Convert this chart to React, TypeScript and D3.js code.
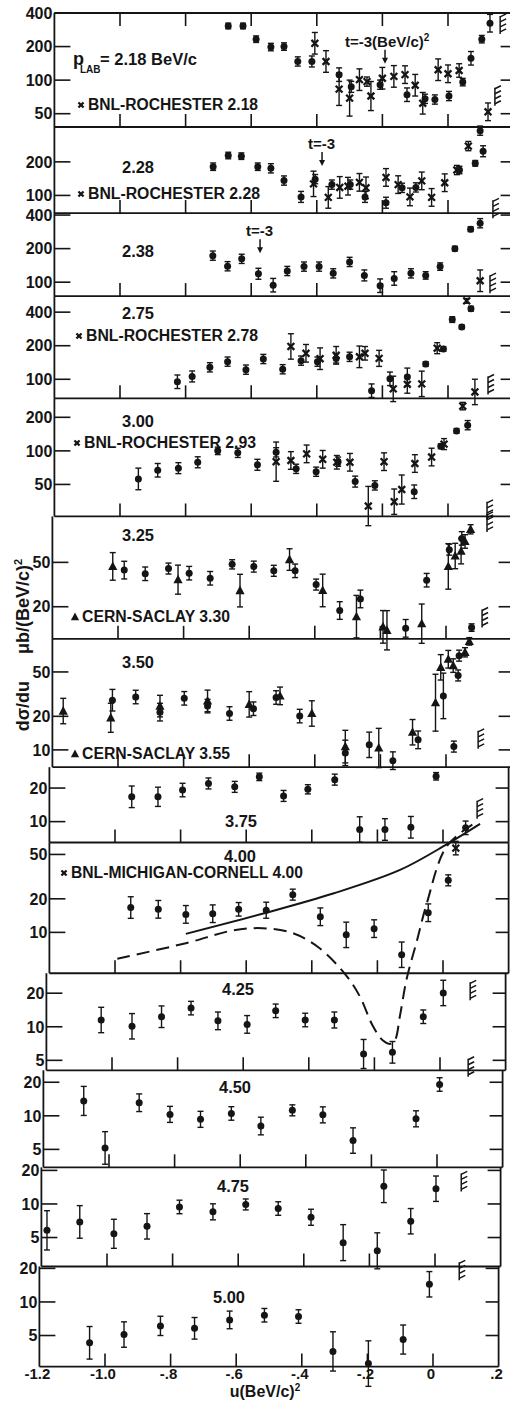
import * as d3 from "d3";

// [u, dσ/du, relative error, marker]  o = this experiment, x = BNL, t = CERN-Saclay
type Pt = [number, number, number, string];

const p218: Pt[] = [
  [-0.67, 306, 0.06, "o"], [-0.625, 306, 0.06, "o"], [-0.585, 233, 0.07, "o"], [-0.54, 198, 0.08, "o"],
  [-0.5, 200, 0.08, "o"], [-0.458, 147, 0.1, "o"], [-0.415, 147, 0.12, "o"], [-0.406, 214, 0.25, "x"],
  [-0.372, 147, 0.25, "x"], [-0.332, 112, 0.15, "o"], [-0.332, 83, 0.4, "x"], [-0.3, 69, 0.45, "x"],
  [-0.295, 87, 0.12, "o"], [-0.27, 101, 0.25, "x"], [-0.247, 97, 0.1, "x"], [-0.235, 72, 0.35, "x"],
  [-0.207, 91, 0.1, "o"], [-0.2, 104, 0.25, "x"], [-0.165, 108, 0.25, "x"], [-0.131, 112, 0.2, "x"],
  [-0.125, 74, 0.15, "o"], [-0.1, 90, 0.25, "x"], [-0.077, 62, 0.25, "x"], [-0.07, 68, 0.1, "o"],
  [-0.04, 67, 0.1, "o"], [-0.03, 124, 0.25, "x"], [0.0, 114, 0.2, "x"], [0.003, 72, 0.1, "o"],
  [0.034, 122, 0.15, "x"], [0.045, 96, 0.08, "o"], [0.07, 157, 0.15, "o"], [0.103, 233, 0.08, "o"],
  [0.128, 324, 0.2, "o"], [0.122, 52, 0.2, "x"],
];
const p228: Pt[] = [
  [-0.716, 181, 0.08, "o"], [-0.67, 228, 0.07, "o"], [-0.63, 225, 0.07, "o"], [-0.58, 181, 0.08, "o"],
  [-0.54, 175, 0.1, "o"], [-0.5, 136, 0.1, "o"], [-0.448, 97, 0.12, "o"], [-0.41, 127, 0.3, "x"],
  [-0.405, 140, 0.1, "o"], [-0.365, 96, 0.25, "x"], [-0.354, 125, 0.1, "o"], [-0.33, 118, 0.25, "x"],
  [-0.305, 121, 0.2, "x"], [-0.298, 125, 0.1, "o"], [-0.27, 131, 0.2, "x"], [-0.253, 97, 0.12, "o"],
  [-0.25, 117, 0.25, "x"], [-0.189, 145, 0.2, "x"], [-0.189, 86, 0.12, "o"], [-0.152, 125, 0.2, "x"],
  [-0.14, 117, 0.1, "o"], [-0.116, 97, 0.2, "x"], [-0.098, 118, 0.1, "o"], [-0.08, 135, 0.2, "x"],
  [-0.05, 96, 0.2, "x"], [-0.01, 130, 0.2, "x"], [0.027, 169, 0.1, "x"], [0.035, 169, 0.08, "o"],
  [0.062, 277, 0.1, "x"], [0.083, 194, 0.06, "o"], [0.098, 381, 0.1, "o"], [0.107, 249, 0.12, "o"],
];
const p238: Pt[] = [
  [-0.717, 173, 0.1, "o"], [-0.672, 139, 0.1, "o"], [-0.629, 162, 0.1, "o"], [-0.578, 119, 0.12, "o"],
  [-0.533, 94, 0.15, "o"], [-0.49, 126, 0.1, "o"], [-0.439, 138, 0.1, "o"], [-0.393, 138, 0.1, "o"],
  [-0.35, 120, 0.1, "o"], [-0.3, 152, 0.1, "o"], [-0.255, 115, 0.12, "o"], [-0.207, 93, 0.15, "o"],
  [-0.164, 108, 0.15, "o"], [-0.113, 120, 0.1, "o"], [-0.068, 115, 0.08, "o"], [-0.024, 138, 0.08, "o"],
  [0.021, 200, 0.05, "o"], [0.069, 299, 0.05, "o"], [0.098, 338, 0.1, "o"], [0.098, 103, 0.25, "x"],
];
const p275: Pt[] = [
  [-0.825, 95, 0.15, "o"], [-0.78, 106, 0.12, "o"], [-0.726, 128, 0.1, "o"], [-0.672, 144, 0.1, "o"],
  [-0.616, 122, 0.1, "o"], [-0.563, 152, 0.1, "o"], [-0.504, 123, 0.1, "o"], [-0.479, 197, 0.3, "x"],
  [-0.448, 147, 0.1, "o"], [-0.433, 171, 0.2, "x"], [-0.398, 144, 0.1, "o"], [-0.39, 153, 0.25, "x"],
  [-0.341, 154, 0.1, "o"], [-0.341, 164, 0.2, "x"], [-0.3, 159, 0.1, "o"], [-0.27, 159, 0.25, "x"],
  [-0.253, 171, 0.15, "x"], [-0.233, 79, 0.15, "o"], [-0.21, 154, 0.18, "x"], [-0.177, 101, 0.15, "o"],
  [-0.167, 82, 0.3, "x"], [-0.124, 105, 0.2, "o"], [-0.124, 90, 0.2, "x"], [-0.08, 91, 0.3, "x"],
  [-0.068, 137, 0.05, "o"], [-0.033, 190, 0.12, "x"], [-0.014, 187, 0.05, "o"], [0.013, 343, 0.06, "o"],
  [0.042, 295, 0.04, "o"], [0.057, 505, 0.05, "x"], [0.07, 430, 0.05, "o"], [0.082, 77, 0.3, "x"],
];
const p300: Pt[] = [
  [-0.944, 56, 0.25, "o"], [-0.885, 67, 0.15, "o"], [-0.822, 70, 0.12, "o"], [-0.763, 79, 0.12, "o"],
  [-0.702, 100, 0.08, "o"], [-0.641, 96, 0.1, "o"], [-0.581, 75, 0.12, "o"], [-0.524, 97, 0.1, "o"],
  [-0.524, 80, 0.5, "x"], [-0.479, 82, 0.2, "x"], [-0.463, 69, 0.1, "o"], [-0.431, 94, 0.2, "x"],
  [-0.402, 65, 0.1, "o"], [-0.382, 84, 0.2, "x"], [-0.339, 79, 0.15, "x"], [-0.335, 80, 0.1, "o"],
  [-0.299, 79, 0.2, "x"], [-0.283, 53, 0.12, "o"], [-0.243, 32, 0.5, "x"], [-0.223, 49, 0.1, "o"],
  [-0.195, 80, 0.2, "x"], [-0.164, 35, 0.3, "x"], [-0.141, 45, 0.35, "x"], [-0.103, 43, 0.15, "o"],
  [-0.101, 77, 0.2, "x"], [-0.05, 88, 0.2, "x"], [-0.022, 110, 0.05, "o"], [-0.012, 115, 0.12, "x"],
  [0.026, 151, 0.05, "o"], [0.045, 252, 0.08, "x"], [0.06, 170, 0.1, "o"],
];
const p325: Pt[] = [
  [-1.016, 46, 0.33, "t"], [-0.981, 42.6, 0.2, "o"], [-0.917, 39.5, 0.15, "o"], [-0.846, 44, 0.12, "o"],
  [-0.817, 35, 0.35, "t"], [-0.783, 40, 0.15, "o"], [-0.719, 36, 0.15, "o"], [-0.652, 48, 0.1, "o"],
  [-0.628, 27.9, 0.4, "t"], [-0.586, 45.8, 0.12, "o"], [-0.525, 42, 0.12, "o"], [-0.477, 53, 0.25, "t"],
  [-0.46, 42, 0.15, "o"], [-0.396, 31.6, 0.12, "o"], [-0.376, 28, 0.4, "t"], [-0.324, 18.5, 0.2, "o"],
  [-0.273, 16.3, 0.55, "t"], [-0.261, 23.5, 0.2, "o"], [-0.192, 13.2, 0.4, "t"], [-0.18, 12.3, 0.5, "t"],
  [-0.123, 12.8, 0.2, "o"], [-0.074, 14.1, 0.5, "t"], [-0.059, 34.6, 0.15, "o"], [0.007, 46, 0.6, "t"],
  [0.01, 65, 0.12, "o"], [0.028, 57, 0.3, "t"], [0.046, 63, 0.3, "t"], [0.048, 82, 0.15, "o"],
  [0.058, 77, 0.15, "t"], [0.075, 99, 0.1, "t"],
];
const p350: Pt[] = [
  [-1.167, 22.3, 0.3, "t"], [-1.022, 19.4, 0.35, "t"], [-1.017, 27.9, 0.25, "o"], [-0.946, 29.8, 0.15, "o"],
  [-0.872, 24.7, 0.25, "t"], [-0.872, 21.8, 0.2, "o"], [-0.798, 29, 0.15, "o"], [-0.727, 27.5, 0.25, "t"],
  [-0.727, 24.7, 0.15, "o"], [-0.66, 21.2, 0.15, "o"], [-0.6, 25.6, 0.3, "t"], [-0.587, 23.4, 0.15, "o"],
  [-0.518, 29.5, 0.15, "o"], [-0.506, 30.5, 0.2, "t"], [-0.446, 20.1, 0.15, "o"], [-0.409, 21.2, 0.3, "t"],
  [-0.307, 10.7, 0.4, "t"], [-0.307, 9.4, 0.3, "o"], [-0.234, 11.1, 0.3, "o"], [-0.205, 10.4, 0.5, "t"],
  [-0.162, 8.0, 0.2, "o"], [-0.102, 14.4, 0.3, "t"], [-0.085, 12.3, 0.2, "o"], [-0.032, 26.5, 0.8, "t"],
  [-0.016, 55, 0.3, "t"], [-0.008, 30.5, 0.6, "o"], [0.007, 65, 0.2, "t"], [0.022, 57, 0.15, "t"],
  [0.024, 10.7, 0.12, "o"], [0.037, 46.5, 0.12, "o"], [0.04, 70, 0.12, "o"], [0.058, 75, 0.1, "t"],
  [0.071, 94, 0.08, "t"], [0.078, 125, 0.08, "o"],
];
const p375: Pt[] = [
  [-0.949, 16.7, 0.25, "o"], [-0.869, 16.7, 0.22, "o"], [-0.794, 19.2, 0.15, "o"], [-0.715, 22, 0.12, "o"],
  [-0.635, 20.5, 0.12, "o"], [-0.56, 25.2, 0.08, "o"], [-0.486, 17, 0.12, "o"], [-0.412, 19.5, 0.1, "o"],
  [-0.33, 23.8, 0.12, "o"], [-0.254, 8.5, 0.3, "o"], [-0.177, 8.5, 0.25, "o"], [-0.098, 8.9, 0.25, "o"],
  [-0.021, 25.5, 0.08, "o"], [0.069, 8.8, 0.15, "o"],
];
const p400: Pt[] = [
  [-0.952, 16.7, 0.25, "o"], [-0.868, 16.1, 0.2, "o"], [-0.784, 14.5, 0.2, "o"], [-0.702, 14.7, 0.2, "o"],
  [-0.623, 16.1, 0.15, "o"], [-0.539, 15.8, 0.18, "o"], [-0.458, 21.8, 0.12, "o"], [-0.374, 13.8, 0.2, "o"],
  [-0.295, 9.5, 0.3, "o"], [-0.21, 10.8, 0.2, "o"], [-0.126, 6.3, 0.3, "o"], [-0.045, 15.0, 0.2, "o"],
  [0.016, 29.3, 0.12, "o"], [0.039, 57, 0.15, "x"],
];
const p425: Pt[] = [
  [-1.033, 11.5, 0.3, "o"], [-0.939, 10.1, 0.3, "o"], [-0.849, 12.3, 0.25, "o"], [-0.759, 14.7, 0.15, "o"],
  [-0.677, 11.3, 0.2, "o"], [-0.588, 10.5, 0.2, "o"], [-0.501, 13.9, 0.15, "o"], [-0.411, 11.5, 0.15, "o"],
  [-0.322, 11.5, 0.18, "o"], [-0.233, 5.7, 0.35, "o"], [-0.145, 5.9, 0.25, "o"], [-0.051, 12.3, 0.15, "o"],
  [0.01, 20.1, 0.3, "o"],
];
const p450: Pt[] = [
  [-1.077, 13.6, 0.35, "o"], [-1.012, 5.15, 0.4, "o"], [-0.908, 13.1, 0.2, "o"], [-0.814, 10.3, 0.18, "o"],
  [-0.721, 9.3, 0.18, "o"], [-0.627, 10.5, 0.15, "o"], [-0.537, 8.1, 0.2, "o"], [-0.441, 11.2, 0.12, "o"],
  [-0.348, 10.2, 0.18, "o"], [-0.256, 6.0, 0.3, "o"], [-0.064, 9.4, 0.18, "o"], [0.008, 19.1, 0.15, "o"],
];
const p475: Pt[] = [
  [-1.183, 5.8, 0.5, "o"], [-1.083, 6.9, 0.4, "o"], [-0.979, 5.4, 0.35, "o"], [-0.878, 6.3, 0.3, "o"],
  [-0.779, 9.4, 0.15, "o"], [-0.677, 8.5, 0.18, "o"], [-0.577, 9.9, 0.12, "o"], [-0.478, 9.1, 0.15, "o"],
  [-0.378, 7.6, 0.18, "o"], [-0.28, 4.5, 0.45, "o"], [-0.176, 3.8, 0.45, "o"], [-0.156, 14.4, 0.4, "o"],
  [-0.074, 7.0, 0.3, "o"], [0.003, 13.7, 0.3, "o"],
];
const p500: Pt[] = [
  [-1.047, 4.3, 0.4, "o"], [-0.942, 5.1, 0.3, "o"], [-0.831, 6.1, 0.22, "o"], [-0.727, 5.8, 0.25, "o"],
  [-0.62, 6.9, 0.2, "o"], [-0.514, 7.6, 0.15, "o"], [-0.41, 7.4, 0.15, "o"], [-0.305, 3.6, 0.5, "o"],
  [-0.197, 2.8, 0.6, "o"], [-0.091, 4.6, 0.35, "o"], [-0.011, 14.4, 0.3, "o"],
];

const series = [p218, p228, p238, p275, p300, p325, p350, p375, p400, p425, p450, p475, p500];
const momenta = ["2.18", "2.28", "2.38", "2.75", "3.00", "3.25", "3.50", "3.75", "4.00", "4.25", "4.50", "4.75", "5.00"];
const yDomains: [number, number][] = [
  [38, 400], [69.5, 411], [75, 417], [67.5, 557], [25.8, 296], [10.3, 129], [7, 99],
  [6.5, 30.8], [4.3, 64], [4.07, 30.2], [3.45, 25.6], [2.75, 21.3], [2.63, 20.8],
];
const yTickVals: number[][] = [
  [400, 200, 100, 50], [200, 100], [400, 200, 100], [400, 200, 100], [200, 100, 50], [50, 20], [50, 20, 10],
  [20, 10], [50, 20, 10], [20, 10, 5], [20, 10, 5], [20, 10, 5], [20, 10, 5],
];
// 180° (u max) hatch marks, [u, value]
const hatches: [number, number][][] = [
  [[0.159, 313], [0.143, 71]], [[0.137, 75]], [[0.128, 96]], [[0.122, 88]], [[0.119, 29]],
  [[0.125, 113], [0.11, 15.7]], [[0.098, 12.3]], [[0.104, 12.8]], [], [[0.092, 20.8]], [[0.095, 27]],
  [[0.08, 15.6]], [[0.08, 18.8]],
];
// t = -3 arrows: panel, u, value at arrow tip
const tArrows: [number, number, number, string][] = [
  [0, -0.192, 140, "t=-3(BeV/c)"],
  [1, -0.384, 184, "t=-3"],
  [2, -0.573, 182, "t=-3"],
];
// model curves drawn in the 4.00 panel
const curveSolid: [number, number][] = [
  [-0.784, 9.7], [-0.539, 15.0], [-0.335, 22.3], [-0.131, 36.3], [0.011, 61.5], [0.113, 94],
];
const curveDashed: [number, number][] = [
  [-0.993, 5.8], [-0.784, 8.0], [-0.641, 10.4], [-0.55, 10.9], [-0.458, 9.85], [-0.376, 7.2],
  [-0.295, 4.1], [-0.254, 2.68], [-0.213, 1.43], [-0.183, 1.07], [-0.162, 1.0], [-0.147, 1.07],
  [-0.131, 1.8], [-0.111, 3.8], [-0.08, 8.3], [-0.05, 17.95], [0.011, 59], [0.093, 94],
];
const xTicks = [-1.2, -1.0, -0.8, -0.6, -0.4, -0.2, 0, 0.2];
const xTickLabels = ["-1.2", "-1.0", "-.8", "-.6", "-.4", "-.2", "0", ".2"];

const PX_PER_DECADE = 111.5;
const TOP = 13;
const shifts = [0, 0, 0, 0, 0, -2, -2, -5, -5, -8, -11, -13, -15];
const labelPos: [number, number][] = [
  [0, 0], [122, 173], [122, 257], [122, 319], [122, 427], [122, 541], [122, 668],
  [225, 827], [224, 862], [222, 995], [219, 1093], [217, 1192], [213, 1303],
];
const legends: { x: number; y: number; m: string; text: string; w: number }[] = [
  { x: 78, y: 110, m: "x", text: "BNL-ROCHESTER 2.18", w: 170 },
  { x: 78, y: 199, m: "x", text: "BNL-ROCHESTER 2.28", w: 172 },
  { x: 76, y: 341, m: "x", text: "BNL-ROCHESTER 2.78", w: 172 },
  { x: 74, y: 448, m: "x", text: "BNL-ROCHESTER 2.93", w: 172 },
  { x: 72, y: 622, m: "t", text: "CERN-SACLAY 3.30", w: 148 },
  { x: 72, y: 759, m: "t", text: "CERN-SACLAY 3.55", w: 148 },
  { x: 61, y: 878, m: "x", text: "BNL-MICHIGAN-CORNELL 4.00", w: 232 },
];

const INK = "#151515";
const FONT = "'Liberation Sans', Arial, sans-serif";

function Marker({ x, y, m, s = 1 }: { x: number; y: number; m: string; s?: number }) {
  if (m === "x") {
    const r = 3.4 * s;
    return (
      <path d={`M${x - r},${y - r}L${x + r},${y + r}M${x + r},${y - r}L${x - r},${y + r}`} stroke={INK} strokeWidth={2.3} />
    );
  }
  if (m === "t") {
    return <path d={`M${x},${y - 5 * s}L${x + 4.6 * s},${y + 3.6 * s}L${x - 4.6 * s},${y + 3.6 * s}Z`} fill={INK} />;
  }
  return <circle cx={x} cy={y} r={3.5 * s} fill={INK} />;
}

export default function App() {
  const layout: { yTop: number; yBot: number }[] = [];
  let yCur = TOP;
  yDomains.forEach(([lo, hi]) => {
    const h = Math.log10(hi / lo) * PX_PER_DECADE;
    layout.push({ yTop: yCur, yBot: yCur + h });
    yCur += h;
  });

  const scales = yDomains.map((dom, i) => ({
    x: d3.scaleLinear().domain([-1.2, 0.2]).range([54.4 + shifts[i], 513.6 + shifts[i]]),
    y: d3.scaleLog().domain(dom).range([layout[i].yBot, layout[i].yTop]),
  }));

  const s9 = scales[8];
  const line9 = d3
    .line<[number, number]>()
    .x((d) => s9.x(d[0]))
    .y((d) => s9.y(d[1]))
    .curve(d3.curveCatmullRom.alpha(0.5));

  const last = scales[12];
  const lastBot = layout[12].yBot;

  return (
    <svg width={510} height={1401} style={{ position: "absolute", left: 0, top: 0, background: "#fff" }} fontFamily={FONT}>
      <rect width={510} height={1401} fill="#fff" />
      {series.map((pts, i) => {
        const { x, y } = scales[i];
        const { yTop, yBot } = layout[i];
        const xl = x(-1.2);
        const xr = x(0.2);
        return (
          <g key={i}>
            {/* frame */}
            <line x1={xl} x2={xr} y1={yBot} y2={yBot} stroke={INK} strokeWidth={1.8} />
            {i === 0 && <line x1={xl} x2={xr} y1={yTop} y2={yTop} stroke={INK} strokeWidth={1.8} />}
            <line x1={xl} x2={xl} y1={yTop} y2={yBot} stroke={INK} strokeWidth={1.8} />
            <line x1={xr} x2={xr} y1={yTop} y2={yBot} stroke={INK} strokeWidth={1.8} />
            {/* x ticks */}
            {xTicks.slice(1, -1).map((u) => (
              <g key={u}>
                <line x1={x(u)} x2={x(u)} y1={yBot} y2={yBot - 13} stroke={INK} strokeWidth={1.6} />
                {i === 0 && <line x1={x(u)} x2={x(u)} y1={yTop} y2={yTop + 13} stroke={INK} strokeWidth={1.6} />}
              </g>
            ))}
            {/* y ticks */}
            {yTickVals[i].map((v) => (
              <g key={v}>
                <line x1={xl} x2={xl + 16} y1={y(v)} y2={y(v)} stroke={INK} strokeWidth={1.6} />
                <line x1={xr - 13} x2={xr} y1={y(v)} y2={y(v)} stroke={INK} strokeWidth={1.6} />
                <text x={xl - 2} y={y(v)} dy="0.36em" textAnchor="end" fontSize={16} fontWeight={700} fill={INK}>
                  {v}
                </text>
              </g>
            ))}
            {/* data */}
            {pts.map(([u, v, e, m], k) => {
              const px = x(u);
              const y1 = y(v * (1 + e));
              const y2 = y(v / (1 + e));
              return (
                <g key={k}>
                  <line x1={px} x2={px} y1={y1} y2={y2} stroke={INK} strokeWidth={1.4} />
                  <line x1={px - 3} x2={px + 3} y1={y1} y2={y1} stroke={INK} strokeWidth={1.4} />
                  <line x1={px - 3} x2={px + 3} y1={y2} y2={y2} stroke={INK} strokeWidth={1.4} />
                  <Marker x={px} y={y(v)} m={m} />
                </g>
              );
            })}
            {/* hatch at kinematic limit */}
            {hatches[i].map(([u, v], k) => {
              const hx = x(u);
              const hy = y(v);
              return (
                <g key={"h" + k} stroke={INK} strokeWidth={1.5}>
                  <line x1={hx} x2={hx} y1={hy - 9} y2={hy + 9} />
                  {[0, 1, 2, 3].map((j) => (
                    <line key={j} x1={hx} x2={hx + 6} y1={hy - 8 + j * 5} y2={hy - 11 + j * 5} />
                  ))}
                </g>
              );
            })}
            {/* momentum label */}
            {i > 0 && (
              <text x={labelPos[i][0]} y={labelPos[i][1]} fontSize={17} fontWeight={700} fill={INK} textLength={32} lengthAdjust="spacingAndGlyphs">
                {momenta[i]}
              </text>
            )}
          </g>
        );
      })}

      {/* p_LAB label */}
      <text x={73} y={65} fontSize={18} fontWeight={700} fill={INK}>p</text>
      <text x={80} y={73} fontSize={10} fontWeight={700} fill={INK}>LAB</text>
      <text x={100} y={65} fontSize={17} fontWeight={700} fill={INK} textLength={97} lengthAdjust="spacingAndGlyphs">
        = {momenta[0]} BeV/c
      </text>

      {/* legends */}
      {legends.map((l, k) => (
        <g key={k}>
          <Marker x={l.x + 3} y={l.y - 5} m={l.m} s={l.m === "x" ? 0.75 : 0.9} />
          <text x={l.x + 10} y={l.y} fontSize={16} fontWeight={700} fill={INK} textLength={l.w} lengthAdjust="spacingAndGlyphs">
            {l.text}
          </text>
        </g>
      ))}

      {/* t = -3 arrows */}
      {tArrows.map(([pi, u, v, label], k) => {
        const ax = scales[pi].x(u);
        const ay = scales[pi].y(v);
        return (
          <g key={k}>
            <line x1={ax} x2={ax} y1={ay - 14} y2={ay - 4} stroke={INK} strokeWidth={1.5} />
            <path d={`M${ax - 3},${ay - 6}L${ax + 3},${ay - 6}L${ax},${ay}Z`} fill={INK} />
            <text x={ax - (k === 0 ? 40 : 14)} y={ay - 17} fontSize={15} fontWeight={700} fill={INK}>
              {label}
              {k === 0 && (
                <tspan dy={-6} fontSize={10}>
                  2
                </tspan>
              )}
            </text>
          </g>
        );
      })}

      {/* model curves */}
      <path d={line9(curveSolid) ?? ""} fill="none" stroke={INK} strokeWidth={2} />
      <path d={line9(curveDashed) ?? ""} fill="none" stroke={INK} strokeWidth={2} strokeDasharray="13 7" />

      {/* x axis labels */}
      {xTicks.map((u, k) => (
        <text key={u} x={last.x(u) - 2} y={lastBot + 12} textAnchor="middle" fontSize={15} fontWeight={700} fill={INK}>
          {xTickLabels[k]}
        </text>
      ))}
      <text x={265} y={1397} textAnchor="middle" fontSize={16} fontWeight={700} fill={INK}>
        u(BeV/c)
        <tspan dy={-6} fontSize={10}>2</tspan>
      </text>

      {/* y axis title */}
      <text transform="translate(29,645) rotate(-90)" textAnchor="middle" fontSize={18} fontWeight={700} fill={INK}>
        dσ/du{"\u2003\u2002"}μb/(BeV/c)
        <tspan dy={-7} fontSize={11}>2</tspan>
      </text>
    </svg>
  );
}
